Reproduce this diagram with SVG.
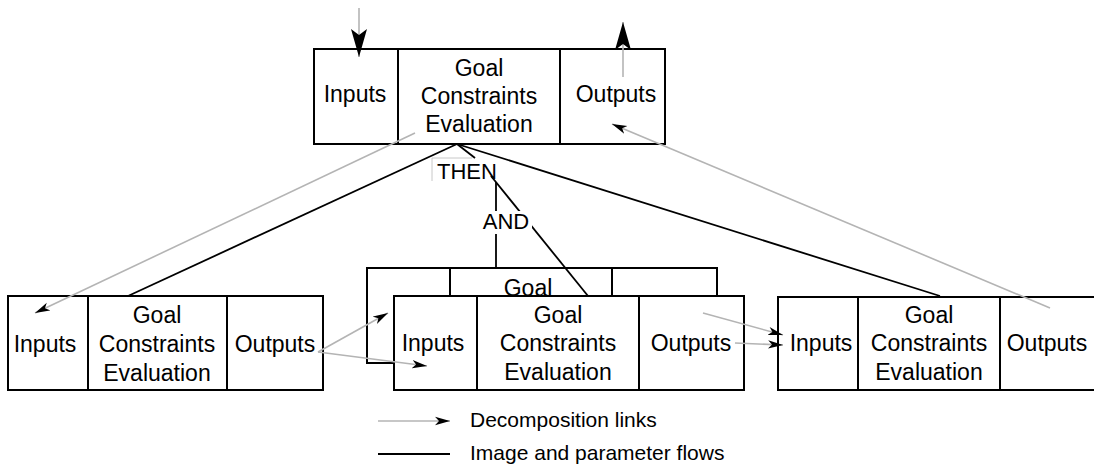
<svg xmlns="http://www.w3.org/2000/svg" width="1094" height="468" viewBox="0 0 1094 468">
  <style>
    .box { fill: #ffffff; stroke: #000000; stroke-width: 2; }
    .div { stroke: #000000; stroke-width: 2; }
    .t { font-family: "Liberation Sans", Arial, sans-serif; font-size: 23px; fill: #000000; text-anchor: middle; }
    .lbl { font-family: "Liberation Sans", Arial, sans-serif; font-size: 22px; fill: #000000; text-anchor: middle; }
    .lg { font-family: "Liberation Sans", Arial, sans-serif; font-size: 21px; fill: #000000; }
    .flow { stroke: #000000; stroke-width: 1.8; fill: none; }
    .link { stroke: #b4b4b4; stroke-width: 1.6; fill: none; }
  </style>
  <defs>
    <marker id="head" markerUnits="userSpaceOnUse" markerWidth="16" markerHeight="10" refX="15" refY="5" orient="auto">
      <path d="M15,5 L0,0.8 L4,5 L0,9.2 Z" fill="#000000"/>
    </marker>
    <marker id="headBig" markerUnits="userSpaceOnUse" markerWidth="30" markerHeight="18" refX="28" refY="9" orient="auto">
      <path d="M28,9 L0,1 L6,9 L0,17 Z" fill="#000000"/>
    </marker>
  </defs>

  <rect width="1094" height="468" fill="#ffffff"/>

  <!-- parent goal -->
  <g id="top-node">
    <rect class="box" x="314" y="49" width="351" height="95"/>
    <line class="div" x1="398" y1="49" x2="398" y2="144"/>
    <line class="div" x1="560" y1="49" x2="560" y2="144"/>
    <text class="t" x="355" y="102">Inputs</text>
    <text class="t" x="479" y="76">Goal</text>
    <text class="t" x="479" y="104">Constraints</text>
    <text class="t" x="479" y="132">Evaluation</text>
    <text class="t" x="616" y="102">Outputs</text>
  </g>

  <!-- left sub-goal -->
  <g id="left-node">
    <rect class="box" x="8" y="296" width="315" height="94"/>
    <line class="div" x1="88" y1="296" x2="88" y2="390"/>
    <line class="div" x1="227" y1="296" x2="227" y2="390"/>
    <text class="t" x="45" y="352">Inputs</text>
    <text class="t" x="157" y="323">Goal</text>
    <text class="t" x="157" y="352">Constraints</text>
    <text class="t" x="157" y="381">Evaluation</text>
    <text class="t" x="275" y="352">Outputs</text>
  </g>

  <!-- middle sub-goal, alternative stacked behind -->
  <g id="middle-back-node">
    <rect class="box" x="367" y="268" width="350" height="95"/>
    <line class="div" x1="450" y1="268" x2="450" y2="363"/>
    <line class="div" x1="612" y1="268" x2="612" y2="363"/>
    <text class="t" x="528" y="296">Goal</text>
  </g>

  <g id="middle-front-node">
    <rect class="box" x="394" y="296" width="350" height="94"/>
    <line class="div" x1="477" y1="296" x2="477" y2="390"/>
    <line class="div" x1="639" y1="296" x2="639" y2="390"/>
    <text class="t" x="433" y="351">Inputs</text>
    <text class="t" x="558" y="323">Goal</text>
    <text class="t" x="558" y="351">Constraints</text>
    <text class="t" x="558" y="380">Evaluation</text>
    <text class="t" x="691" y="351">Outputs</text>
  </g>

  <!-- right sub-goal -->
  <g id="right-node">
    <rect class="box" x="778" y="297" width="320" height="93"/>
    <line class="div" x1="858" y1="297" x2="858" y2="390"/>
    <line class="div" x1="1000" y1="297" x2="1000" y2="390"/>
    <text class="t" x="821" y="351">Inputs</text>
    <text class="t" x="929" y="323">Goal</text>
    <text class="t" x="929" y="351">Constraints</text>
    <text class="t" x="929" y="380">Evaluation</text>
    <text class="t" x="1047" y="351">Outputs</text>
  </g>

  <g id="connectors">
    <!-- image and parameter flows -->
    <line class="flow" x1="457" y1="144" x2="128" y2="296"/>
    <line class="flow" x1="457" y1="144" x2="940" y2="296"/>
    <line class="flow" x1="457" y1="144" x2="475" y2="158"/>
    <line class="flow" x1="496" y1="182" x2="496" y2="268"/>
    <line class="flow" x1="491" y1="176" x2="588" y2="296"/>

    <!-- decomposition links -->
    <line class="link" x1="359" y1="8" x2="359" y2="57" marker-end="url(#headBig)"/>
    <line class="link" x1="623" y1="77" x2="623" y2="22" marker-end="url(#headBig)"/>
    <line class="link" x1="415" y1="133" x2="35" y2="313" marker-end="url(#head)"/>
    <line class="link" x1="1050" y1="308" x2="612" y2="124" marker-end="url(#head)"/>
    <line class="link" x1="318" y1="352" x2="388" y2="313" marker-end="url(#head)"/>
    <line class="link" x1="318" y1="352" x2="427" y2="366" marker-end="url(#head)"/>
    <line class="link" x1="703" y1="313" x2="783" y2="335" marker-end="url(#head)"/>
    <line class="link" x1="735" y1="343" x2="783" y2="345" marker-end="url(#head)"/>
  </g>

  <g id="then-label">
    <polyline points="432,181 432,158 472,158" fill="none" stroke="#c8c8c8" stroke-width="1"/>
    <text class="lbl" x="467" y="179">THEN</text>
  </g>

  <g id="and-label">
    <rect x="481" y="211" width="51" height="23" fill="#ffffff"/>
    <text class="lbl" x="506" y="229">AND</text>
  </g>

  <g id="legend">
    <line class="link" x1="378" y1="421" x2="450" y2="421" marker-end="url(#head)"/>
    <text class="lg" x="470" y="427">Decomposition links</text>
    <line class="flow" x1="378" y1="454" x2="450" y2="454"/>
    <text class="lg" x="470" y="460">Image and parameter flows</text>
  </g>
</svg>
